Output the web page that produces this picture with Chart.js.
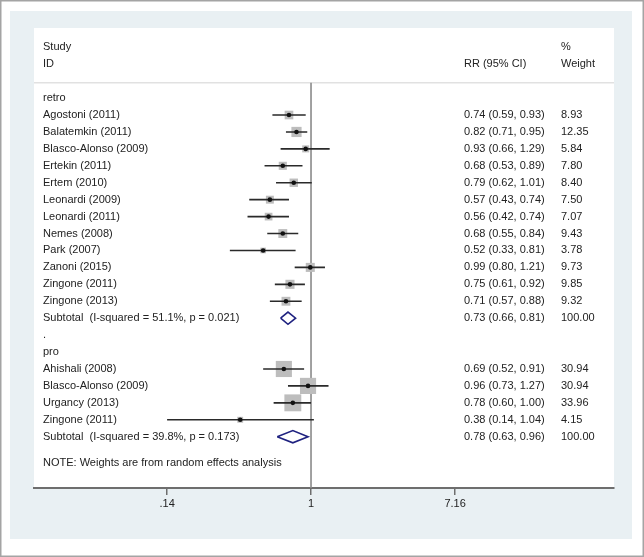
<!DOCTYPE html>
<html>
<head>
<meta charset="utf-8">
<script src="https://cdn.jsdelivr.net/npm/chart.js@4"></script>
<style>
  html, body { margin: 0; padding: 0; background: #fff; }
  #wrap { width: 644px; height: 557px; position: relative; }
</style>
</head>
<body>
<div id="wrap"><canvas id="forest" width="644" height="557"></canvas></div>
<script>
// retrospective studies
const retroStudy = ['Agostoni (2011)', 'Balatemkin (2011)', 'Blasco-Alonso (2009)', 'Ertekin (2011)',
  'Ertem (2010)', 'Leonardi (2009)', 'Leonardi (2011)', 'Nemes (2008)', 'Park (2007)',
  'Zanoni (2015)', 'Zingone (2011)', 'Zingone (2013)'];
const retroRR = [0.74, 0.82, 0.93, 0.68, 0.79, 0.57, 0.56, 0.68, 0.52, 0.99, 0.75, 0.71];
const retroLo = [0.59, 0.71, 0.66, 0.53, 0.62, 0.43, 0.42, 0.55, 0.33, 0.80, 0.61, 0.57];
const retroHi = [0.93, 0.95, 1.29, 0.89, 1.01, 0.74, 0.74, 0.84, 0.81, 1.21, 0.92, 0.88];
const retroWeight = [8.93, 12.35, 5.84, 7.80, 8.40, 7.50, 7.07, 9.43, 3.78, 9.73, 9.85, 9.32];

// prospective studies
const proStudy = ['Ahishali (2008)', 'Blasco-Alonso (2009)', 'Urgancy (2013)', 'Zingone (2011)'];
const proRR = [0.69, 0.96, 0.78, 0.38];
const proLo = [0.52, 0.73, 0.60, 0.14];
const proHi = [0.91, 1.27, 1.00, 1.04];
const proWeight = [30.94, 30.94, 33.96, 4.15];

// pooled estimates
const subLabel = ['Subtotal  (I-squared = 51.1%, p = 0.021)', 'Subtotal  (I-squared = 39.8%, p = 0.173)'];
const subRR = [0.73, 0.78];
const subLo = [0.66, 0.63];
const subHi = [0.81, 0.96];
const subWeight = [100.00, 100.00];

const xTicks = [0.14, 1, 7.16];
const xTickLabels = ['.14', '1', '7.16'];

// row numbers (y axis units)
const retroRows = retroStudy.map((s, i) => 4 + i);
const proRows = proStudy.map((s, i) => 19 + i);
const subRows = [16, 23];

const allRR = retroRR.concat(proRR);
const allLo = retroLo.concat(proLo);
const allHi = retroHi.concat(proHi);
const allW = retroWeight.concat(proWeight);
const allRows = retroRows.concat(proRows);

const ciData = [];
allRows.forEach((r, i) => {
  ciData.push({x: allLo[i], y: r}, {x: allHi[i], y: r}, {x: null, y: null});
});
const diamondData = [];
subRows.forEach((r, i) => {
  const h = 0.36;
  diamondData.push({x: subLo[i], y: r}, {x: subRR[i], y: r - h}, {x: subHi[i], y: r},
    {x: subRR[i], y: r + h}, {x: subLo[i], y: r}, {x: null, y: null});
});

function fmt(v) { return v.toFixed(2); }
function ciText(rr, lo, hi) { return fmt(rr) + ' (' + fmt(lo) + ', ' + fmt(hi) + ')'; }

const frame = {
  id: 'frame',
  beforeDraw(chart) {
    const c = chart.ctx, a = chart.chartArea;
    c.save();
    c.fillStyle = '#fff';
    c.fillRect(0, 0, chart.width, chart.height);
    c.strokeStyle = '#a4a4a4';
    c.lineWidth = 1.5;
    c.strokeRect(0.75, 0.75, chart.width - 1.5, chart.height - 1.5);
    c.fillStyle = '#e9f0f3';
    c.fillRect(10, 11, 622, 528);
    c.fillStyle = '#fff';
    c.fillRect(a.left, a.top, a.right - a.left, a.bottom - a.top);
    // header separator
    const ys = chart.scales.y.getPixelForValue(2.1);
    c.strokeStyle = '#d2d2d2';
    c.lineWidth = 1;
    c.beginPath();
    c.moveTo(a.left, ys);
    c.lineTo(a.right, ys);
    c.stroke();
    c.restore();
  }
};

const labels = {
  id: 'labels',
  afterDraw(chart) {
    const c = chart.ctx, y = chart.scales.y;
    const xName = 43, xCI = 464, xW = 561;
    c.save();
    c.font = '11px Arial, "Liberation Sans", sans-serif';
    c.fillStyle = '#222';
    c.textBaseline = 'middle';
    const put = (t, x, row) => c.fillText(t, x, y.getPixelForValue(row));
    put('Study', xName, 0);
    put('ID', xName, 1);
    put('%', xW, 0);
    put('RR (95% CI)', xCI, 1);
    put('Weight', xW, 1);
    put('retro', xName, 3);
    retroStudy.forEach((s, i) => {
      put(s, xName, retroRows[i]);
      put(ciText(retroRR[i], retroLo[i], retroHi[i]), xCI, retroRows[i]);
      put(fmt(retroWeight[i]), xW, retroRows[i]);
    });
    put('.', xName, 17);
    put('pro', xName, 18);
    proStudy.forEach((s, i) => {
      put(s, xName, proRows[i]);
      put(ciText(proRR[i], proLo[i], proHi[i]), xCI, proRows[i]);
      put(fmt(proWeight[i]), xW, proRows[i]);
    });
    subRows.forEach((r, i) => {
      put(subLabel[i], xName, r);
      put(ciText(subRR[i], subLo[i], subHi[i]), xCI, r);
      put(fmt(subWeight[i]), xW, r);
    });
    put('NOTE: Weights are from random effects analysis', xName, 24.55);
    c.restore();
  }
};

new Chart(document.getElementById('forest'), {
  type: 'scatter',
  data: {
    datasets: [{
      // point estimates
      data: allRows.map((r, i) => ({x: allRR[i], y: r})),
      pointStyle: 'circle',
      pointRadius: 2.3,
      backgroundColor: '#111',
      borderWidth: 0,
      order: 0
    }, {
      // pooled diamonds
      data: diamondData,
      showLine: true,
      spanGaps: false,
      pointRadius: 0,
      borderColor: '#1f2280',
      borderWidth: 1.6,
      fill: false,
      order: 1
    }, {
      // confidence intervals
      data: ciData,
      showLine: true,
      spanGaps: false,
      pointRadius: 0,
      borderColor: '#2a2a2a',
      borderWidth: 1.6,
      order: 2
    }, {
      // weight boxes
      data: allRows.map((r, i) => ({x: allRR[i], y: r})),
      pointStyle: 'rect',
      pointRadius: allW.map(w => 2.9 * Math.sqrt(w) / Math.SQRT2),
      backgroundColor: '#bdbdbd',
      borderWidth: 0,
      order: 3
    }, {
      // line of no effect
      data: [{x: 1, y: 2.1}, {x: 1, y: 26.1}],
      showLine: true,
      pointRadius: 0,
      borderColor: '#8a8a8a',
      borderWidth: 1.6,
      order: 4
    }]
  },
  options: {
    responsive: false,
    animation: false,
    layout: { padding: { left: 34, right: 30, top: 28, bottom: 39 } },
    plugins: { legend: { display: false }, tooltip: { enabled: false } },
    scales: {
      x: {
        type: 'logarithmic',
        min: 0.02272,
        max: 62.75,
        bounds: 'data',
        afterBuildTicks: s => { s.ticks = xTicks.map(v => ({value: v})); },
        afterFit: s => { s.height = 30; },
        grid: { drawOnChartArea: false, drawTicks: true, tickLength: 7, color: '#6e6e6e', lineWidth: 1.5 },
        border: { display: true, color: '#6e6e6e', width: 2 },
        ticks: {
          autoSkip: false,
          maxRotation: 0,
          padding: 2,
          color: '#222',
          font: { family: 'Arial, "Liberation Sans", sans-serif', size: 11 },
          callback: (v, i) => xTickLabels[i]
        }
      },
      y: {
        type: 'linear',
        display: false,
        reverse: true,
        min: -1.14,
        max: 26.03
      }
    }
  },
  plugins: [frame, labels]
});
</script>
</body>
</html>
